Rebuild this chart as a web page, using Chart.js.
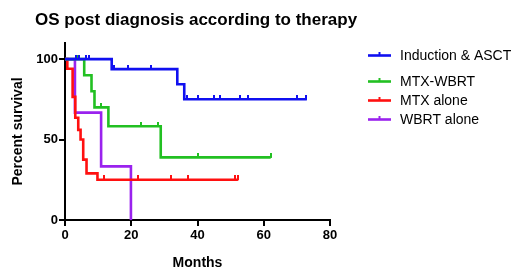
<!DOCTYPE html>
<html>
<head>
<meta charset="utf-8">
<script src="https://cdn.jsdelivr.net/npm/chart.js@4.4.1/dist/chart.umd.min.js"></script>
<style>
html,body{margin:0;padding:0;background:#fff;}
#wrap{position:relative;width:520px;height:277px;}
</style>
</head>
<body>
<div id="wrap"><canvas id="c" width="520" height="277"></canvas></div>
<script>
// ---- data ----
const chartTitle = "OS post diagnosis according to therapy";
const seriesNames = ["Induction & ASCT", "MTX-WBRT", "MTX alone", "WBRT alone"];
const seriesColors = ["#1010f0", "#22c022", "#ff1010", "#9a22ee"];
const xTicks = [0, 20, 40, 60, 80];
const yTicks = [0, 50, 100];

// Kaplan-Meier step points: time (months) and percent survival after each step
const asctTimes = [0, 14.1, 33.9, 36.0, 73.0];
const asctSurv  = [100, 93.75, 84.4, 75, 75];
const asctCensorT = [3.2, 4.2, 6.3, 7.2, 14.9, 18.9, 26.0, 36.9, 40.0, 45.1, 46.8, 52.9, 55.1, 70.0, 72.8];
const asctCensorS = [100, 100, 100, 100, 93.75, 93.75, 93.75, 75, 75, 75, 75, 75, 75, 75, 75];

const mtxwTimes = [0, 5.8, 8.0, 8.9, 13.1, 28.9, 62.1];
const mtxwSurv  = [100, 90, 80, 70, 58.3, 38.9, 38.9];
const mtxwCensorT = [3.6, 11.0, 23.0, 28.0, 40.0, 62.1];
const mtxwCensorS = [100, 70, 58.3, 58.3, 38.9, 38.9];

const mtxTimes = [0, 0.7, 2.3, 3.1, 4.0, 4.7, 5.5, 6.5, 9.8, 52.2];
const mtxSurv  = [100, 94, 76.5, 63.5, 56, 50, 37.5, 29, 25, 25];
const mtxCensorT = [11.9, 21.9, 32.0, 37.0, 51.2, 52.2];
const mtxCensorS = [25, 25, 25, 25, 25, 25];

const wbrtTimes = [0, 3.0, 10.9, 19.9];
const wbrtSurv  = [100, 66.7, 33.3, 0];
const wbrtCensorT = [];
const wbrtCensorS = [];

const FONT = "'Liberation Sans', Arial, Helvetica, sans-serif";

function pts(t, s){ return t.map((v,i)=>({x:v, y:s[i]})); }

// small upward tick used as the censor marker
function tickImage(color){
  const cv = document.createElement('canvas');
  cv.width = 2; cv.height = 9;
  const g = cv.getContext('2d');
  g.fillStyle = color;
  g.fillRect(0, 0, 2, 5);
  return cv;
}

const curves = [
  [asctTimes, asctSurv, asctCensorT, asctCensorS],
  [mtxwTimes, mtxwSurv, mtxwCensorT, mtxwCensorS],
  [mtxTimes, mtxSurv, mtxCensorT, mtxCensorS],
  [wbrtTimes, wbrtSurv, wbrtCensorT, wbrtCensorS]
];

const datasets = [];
curves.forEach((c, i) => {
  datasets.push({
    label: seriesNames[i],
    data: pts(c[0], c[1]),
    borderColor: seriesColors[i],
    borderWidth: 2.6,
    stepped: 'before',
    pointRadius: 0,
    fill: false,
    order: i
  });
  datasets.push({
    label: seriesNames[i] + ' censored',
    type: 'scatter',
    data: pts(c[2], c[3]),
    borderColor: seriesColors[i],
    backgroundColor: seriesColors[i],
    pointStyle: tickImage(seriesColors[i]),
    pointRadius: 4,
    showLine: false,
    order: i
  });
});

const decor = {
  id: 'decor',
  afterDraw(chart) {
    const ctx = chart.ctx;
    ctx.save();
    // title
    ctx.fillStyle = '#000';
    ctx.font = 'bold 17px ' + FONT;
    ctx.textBaseline = 'alphabetic';
    ctx.textAlign = 'left';
    ctx.fillText(chartTitle, 35, 25);
    // legend
    const ys = [55.5, 81.5, 100.5, 119.5];
    ctx.font = '14px ' + FONT;
    ctx.textBaseline = 'middle';
    seriesNames.forEach((n, i) => {
      const y = ys[i];
      ctx.strokeStyle = seriesColors[i];
      ctx.lineWidth = 2.6;
      ctx.beginPath();
      ctx.moveTo(368, y); ctx.lineTo(391, y);
      ctx.stroke();
      ctx.lineWidth = 2;
      ctx.beginPath();
      ctx.moveTo(379.5, y - 3.5); ctx.lineTo(379.5, y);
      ctx.stroke();
      ctx.fillStyle = '#000';
      ctx.fillText(n, 400, y + 0.5);
    });
    ctx.restore();
  }
};

new Chart(document.getElementById('c'), {
  type: 'line',
  data: { datasets },
  options: {
    responsive: false,
    animation: false,
    devicePixelRatio: 1,
    layout: { padding: { left: 0, top: 43, right: 190, bottom: 0 } },
    plugins: { legend: { display: false }, tooltip: { enabled: false }, title: { display: false } },
    scales: {
      x: {
        type: 'linear',
        min: 0, max: 80,
        afterBuildTicks(s) { s.ticks = xTicks.map(v => ({ value: v })); },
        afterFit(s) { s.height = 57; },
        ticks: { color: '#000', font: { family: FONT, size: 13, weight: 'bold' }, padding: 2, maxRotation: 0 },
        grid: { display: true, drawOnChartArea: false, drawTicks: true, tickLength: 6, color: '#000', lineWidth: 2 },
        border: { display: true, color: '#000', width: 2 },
        title: { display: true, text: 'Months', color: '#000', font: { family: FONT, size: 14, weight: 'bold' }, padding: { top: 4, bottom: 5 } }
      },
      y: {
        type: 'linear',
        min: 0, max: 110,
        afterBuildTicks(s) { s.ticks = yTicks.map(v => ({ value: v })); },
        afterFit(s) { s.width = 65; },
        ticks: { color: '#000', font: { family: FONT, size: 13, weight: 'bold' }, padding: 1 },
        grid: { display: true, drawOnChartArea: false, drawTicks: true, tickLength: 6, color: '#000', lineWidth: 2 },
        border: { display: true, color: '#000', width: 2 },
        title: { display: true, text: 'Percent survival', color: '#000', font: { family: FONT, size: 14, weight: 'bold' }, padding: { top: 10, bottom: 0 } }
      }
    }
  },
  plugins: [decor]
});
</script>
</body>
</html>
